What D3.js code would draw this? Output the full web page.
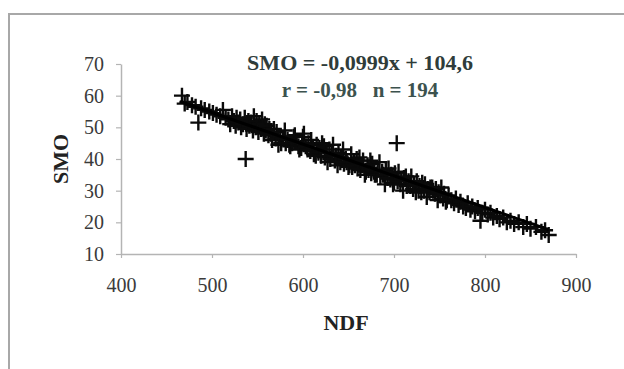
<!DOCTYPE html>
<html>
<head>
<meta charset="utf-8">
<script src="https://cdn.jsdelivr.net/npm/d3@7"></script>
<style>
  body { margin: 0; background: #fff; }
  svg { display: block; }
</style>
</head>
<body>
<div class="chart"></div>
<script>
// NDF / SMO pairs
const ndf = [
  467, 470, 473, 478, 482, 485, 488, 492, 497, 501, 505, 509, 512, 515, 518,
  520, 522, 524, 526, 527, 529, 531, 532, 534, 536, 537, 538, 540, 541, 543,
  545, 546, 548, 549, 551, 552, 554, 555, 556, 557, 558, 559, 560, 562, 563,
  565, 566, 568, 570, 571, 573, 575, 576, 578, 580, 581, 583, 585, 586, 588,
  590, 591, 593, 595, 596, 598, 599, 600, 601, 603,
  605, 606, 608, 609, 611, 612, 614, 615, 617, 618, 620, 621, 623, 624, 626,
  627, 629, 630, 632, 633, 635, 636, 638, 639, 641, 642, 644, 645, 647, 648,
  650, 651, 653, 654, 656,
  657, 659, 660, 662, 663, 665, 666, 668, 669, 671, 672, 674, 675, 676, 678,
  679, 681, 682, 684, 685, 687, 688, 690, 691, 693, 694, 696, 697, 699, 700,
  701, 703, 704, 705, 707, 708, 710, 711, 713, 714,
  716, 718, 719, 721, 722, 724, 725, 727, 728, 730, 731, 733, 734, 736, 737,
  739, 740, 742, 743, 745, 746, 748, 749, 751, 752, 754, 755, 757, 758, 760,
  763, 766, 768, 771, 773, 776, 779, 781, 784, 786, 789, 792, 795, 797, 800,
  803, 806, 809,
  813, 816, 820, 824, 828, 832, 837, 842, 846, 850, 856, 862, 866, 870
];
const smo = [
  60, 57.5, 58, 57, 56.5, 51.5, 56, 55.5, 55, 54.5, 54, 53.5, 55.5, 53, 52.5,
  51, 53.5, 52, 50.5, 53, 51.5, 52.5, 50, 51, 53, 40, 49.5, 52, 50.5, 51.5,
  49, 53.5, 50, 52, 48.5, 51, 49.5, 52.5, 50, 48, 51, 49, 50.5, 47.5, 49.5,
  48, 46, 49.5, 46.5, 48.5, 44.5, 47, 45, 46.5, 49, 45, 46, 44.5, 44, 45,
  47, 47.5, 45.5, 44, 43, 43.5, 45, 47, 48, 44,
  43, 45, 42.5, 46, 43.5, 41.5, 41, 44.5, 42, 43.5, 41, 45, 44, 40.5, 42,
  39, 43, 40, 41.5, 44.5, 39.5, 41, 38, 42, 39, 40.5, 43, 38.5, 40, 39,
  37.5, 38, 41.5, 37.5, 39,
  38, 40, 37, 40.5, 36.5, 38, 39.5, 35, 36, 38, 36.5, 39.5, 35.5, 38.5, 36,
  35, 35, 36.5, 39, 34.5, 36, 35, 32, 36.5, 34, 37, 33.5, 35, 32, 32.5,
  35.5, 45, 33, 36, 32, 33.5, 30, 34, 34.5, 31.5,
  33, 31.5, 34.5, 30.5, 32, 29.5, 33, 30, 31.5, 29.5, 32.5, 30, 32, 28, 30.5,
  29.5, 31, 31, 30, 29, 30.5, 27, 29.5, 28.5, 31, 27.5, 29, 26.5, 27, 28.5,
  27, 26, 27.5, 25.5, 26.5, 25, 24.5, 26, 24, 25, 23.5, 24.5, 20.5, 23, 24,
  22.5, 23, 21.5,
  22, 21, 21.5, 20, 20.5, 19.5, 20, 18.5, 19.5, 18, 18.5, 17, 17.5, 16
];
const fitSlope = -0.0999;
const fitIntercept = 104.6;
const fitRange = [465, 870];
const xTicks = [400, 500, 600, 700, 800, 900];
const yTicks = [10, 20, 30, 40, 50, 60, 70];
const eqLine1 = 'SMO = -0,0999x + 104,6';
const eqLine2 = 'r = -0,98   n = 194';

const width = 624;
const height = 369;
const serif = '"Liberation Serif", "DejaVu Serif", serif';

const x = d3.scaleLinear().domain([400, 900]).range([121, 576]);
const y = d3.scaleLinear().domain([10, 70]).range([254, 64]);

const svg = d3.select('.chart')
  .append('svg')
  .attr('width', width)
  .attr('height', height);

svg.append('rect')
  .attr('x', 9).attr('y', 14)
  .attr('width', width).attr('height', height)
  .attr('fill', 'none')
  .attr('stroke', '#a8a8a8')
  .attr('stroke-width', 2);

// axes
const xAxis = svg.append('g')
  .attr('transform', `translate(0,${y(10)})`)
  .call(d3.axisBottom(x).tickValues(xTicks).tickSize(4).tickPadding(20).tickSizeOuter(0));

const yAxis = svg.append('g')
  .attr('transform', `translate(${x(400)},0)`)
  .call(d3.axisLeft(y).tickValues(yTicks).tickSize(5).tickPadding(12).tickSizeOuter(0));

[xAxis, yAxis].forEach(g => {
  g.select('.domain').attr('stroke', '#b4b4b4').attr('stroke-width', 1.5);
  g.selectAll('.tick line').attr('stroke', '#b4b4b4').attr('stroke-width', 1.2);
  g.selectAll('.tick text')
    .attr('font-family', serif)
    .attr('font-size', 20)
    .attr('fill', '#3a3a3a');
});

// points
const pts = ndf.map((d, i) => [d, smo[i]]);
const arm = 8;
svg.append('g')
  .attr('stroke', '#0a0a0a')
  .attr('stroke-width', 2.4)
  .selectAll('path')
  .data(pts)
  .join('path')
  .attr('d', d => {
    const px = x(d[0]), py = y(d[1]);
    return `M${px - arm},${py}H${px + arm}M${px},${py - arm}V${py + arm}`;
  });

// trend line
svg.append('path')
  .datum(fitRange.map(v => [v, fitSlope * v + fitIntercept]))
  .attr('fill', 'none')
  .attr('stroke', '#000')
  .attr('stroke-width', 3)
  .attr('d', d3.line().x(d => x(d[0])).y(d => y(d[1])));

// texts
function label(txt, tx, ty, opts) {
  return svg.append('text')
    .attr('transform', `translate(${tx},${ty}) scale(${opts.sx || 1},1)`)
    .attr('text-anchor', 'middle')
    .attr('font-family', serif)
    .attr('font-weight', 'bold')
    .attr('font-size', opts.size)
    .attr('fill', opts.fill)
    .style('white-space', 'pre')
    .text(txt);
}

label(eqLine1, 360, 70, { size: 21, fill: '#2f3c3a', sx: 1.05 });
label(eqLine2, 360, 97, { size: 21, fill: '#3c524e', sx: 1.0 });
label('NDF', 346, 330, { size: 22, fill: '#222', sx: 1.0 });

svg.append('text')
  .attr('transform', `translate(68,159) rotate(-90)`)
  .attr('text-anchor', 'middle')
  .attr('font-family', serif)
  .attr('font-weight', 'bold')
  .attr('font-size', 22)
  .attr('fill', '#222')
  .text('SMO');
</script>
</body>
</html>
